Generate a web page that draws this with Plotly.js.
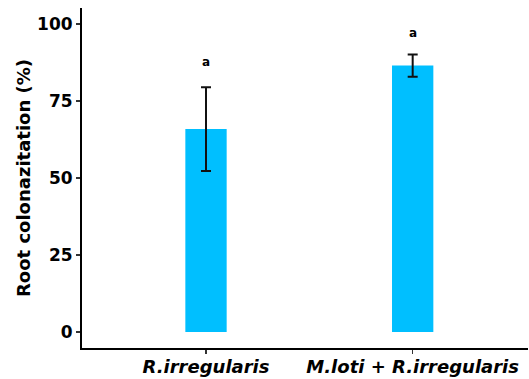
<!DOCTYPE html>
<html>
<head>
<meta charset="utf-8">
<script src="https://cdn.plot.ly/plotly-3.0.1.min.js"></script>
<style>html,body{margin:0;padding:0;background:#fff;}#chart{width:529px;height:379px;}</style>
</head>
<body>
<div id="chart"></div>
<script>
const categories = ["R.irregularis", "M.loti + R.irregularis"];
const tickLabels = ["<b><i>R.irregularis</i></b>", "<b><i>M.loti + R.irregularis</i></b>"];
const means = [65.9, 86.5];
const sds = [13.6, 3.6];
const letters = ["a", "a"];
const letterY = [87.8, 97.2];

const FONT = "DejaVu Sans, Liberation Sans, Arial, sans-serif";

const trace = {
  type: "bar",
  x: categories,
  y: means,
  width: 0.2,
  marker: {color: "#00BFFF"},
  error_y: {type: "data", array: sds, visible: true, color: "#111", thickness: 2, width: 5}
};

const annotations = categories.map((c, i) => ({
  x: c, y: letterY[i], xref: "x", yref: "y",
  text: "<b>" + letters[i] + "</b>", showarrow: false,
  font: {family: FONT, size: 12, color: "#000"}
}));

const layout = {
  width: 529, height: 379,
  margin: {l: 82, r: 1, t: 8, b: 31, pad: 0},
  paper_bgcolor: "#fff", plot_bgcolor: "#fff",
  showlegend: false,
  font: {family: FONT, color: "#000"},
  xaxis: {
    type: "category", range: [-0.6, 1.558],
    tickvals: categories, ticktext: tickLabels,
    showline: true, linecolor: "#000", linewidth: 2,
    ticks: "outside", ticklen: 4, tickwidth: 1.5, tickcolor: "#333",
    ticklabelstandoff: -3,
    showgrid: false, zeroline: false,
    tickfont: {size: 18, color: "#000"}
  },
  yaxis: {
    range: [-5.2, 105.2],
    tickvals: [0, 25, 50, 75, 100],
    ticktext: ["<b>0</b>", "<b>25</b>", "<b>50</b>", "<b>75</b>", "<b>100</b>"],
    showline: true, linecolor: "#000", linewidth: 2,
    ticks: "outside", ticklen: 4, tickwidth: 1.5, tickcolor: "#333",
    showgrid: false, zeroline: false,
    tickfont: {size: 17, color: "#000"},
    title: {text: "<b>Root colonazitation (%)</b>", font: {size: 18, color: "#000"}, standoff: 2}
  },
  annotations: annotations
};

Plotly.newPlot("chart", [trace], layout, {displayModeBar: false, staticPlot: true});
</script>
</body>
</html>
